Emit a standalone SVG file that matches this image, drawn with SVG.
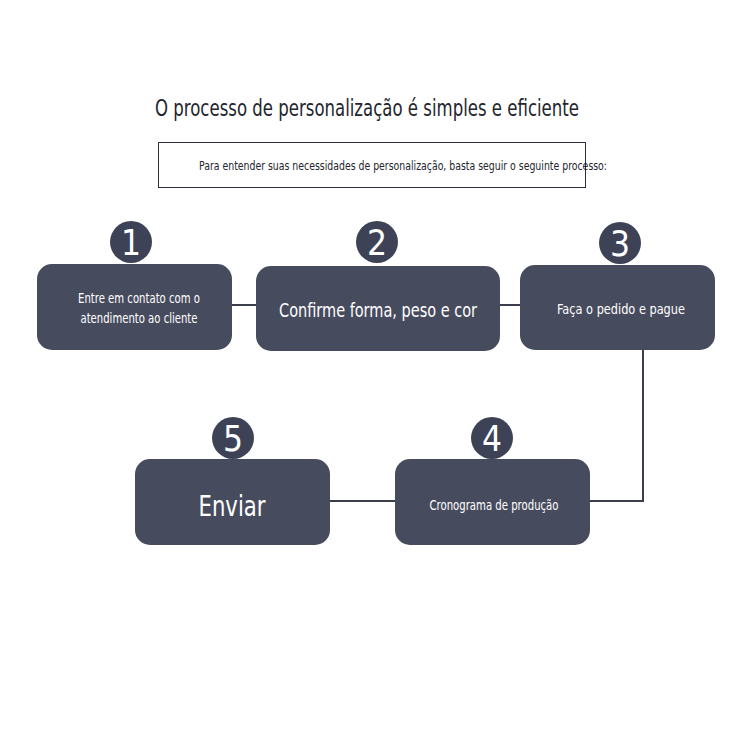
<svg xmlns="http://www.w3.org/2000/svg" width="750" height="750" viewBox="0 0 750 750">
<style>
.node{fill:#474b5e}
.badge{fill:#3e4256}
.num{fill:#ffffff;font-family:"DejaVu Sans",sans-serif;font-stretch:condensed;font-size:35px;text-anchor:middle}
.lbl{fill:#ffffff;font-family:"DejaVu Sans",sans-serif;font-stretch:condensed;text-anchor:middle}
.dark{fill:#23252e;font-family:"DejaVu Sans",sans-serif;font-stretch:condensed}
.conn{stroke:#3a3d4a;stroke-width:2;fill:none}
</style>
<rect width="750" height="750" fill="#ffffff"/>
<g id="header">
<text class="dark" x="155" y="116" font-size="23" textLength="424" lengthAdjust="spacingAndGlyphs">O processo de personalização é simples e eficiente</text>
<rect x="158.5" y="142.5" width="427" height="45" fill="none" stroke="#2b2d38" stroke-width="1"/>
<text class="dark" x="199" y="170" font-size="12.5" textLength="408" lengthAdjust="spacingAndGlyphs">Para entender suas necessidades de personalização, basta seguir o seguinte processo:</text>
</g>
<g id="connectors">
<line class="conn" x1="232" y1="305" x2="257" y2="305"/>
<line class="conn" x1="500" y1="305" x2="521" y2="305"/>
<polyline class="conn" points="643,350 643,501 590,501"/>
<line class="conn" x1="330" y1="501" x2="395" y2="501"/>
</g>
<g id="node1">
<rect class="node" x="37" y="264" width="195" height="86" rx="15"/>
<circle class="badge" cx="131" cy="242" r="21"/>
<text class="num" x="131" y="255">1</text>
<text class="lbl" x="139" y="303" font-size="13.5" textLength="122" lengthAdjust="spacingAndGlyphs">Entre em contato com o</text>
<text class="lbl" x="139" y="323" font-size="13.5" textLength="117" lengthAdjust="spacingAndGlyphs">atendimento ao cliente</text>
</g>
<g id="node2">
<rect class="node" x="256" y="266" width="244" height="85" rx="15"/>
<circle class="badge" cx="377" cy="242" r="21"/>
<text class="num" x="377" y="255">2</text>
<text class="lbl" x="378" y="317" font-size="20" textLength="198" lengthAdjust="spacingAndGlyphs">Confirme forma, peso e cor</text>
</g>
<g id="node3">
<rect class="node" x="520" y="265" width="195" height="85" rx="15"/>
<circle class="badge" cx="620" cy="243" r="21"/>
<text class="num" x="620" y="256">3</text>
<text class="lbl" x="621" y="314" font-size="14.5" textLength="128" lengthAdjust="spacingAndGlyphs">Faça o pedido e pague</text>
</g>
<g id="node4">
<rect class="node" x="395" y="459" width="195" height="86" rx="15"/>
<circle class="badge" cx="492" cy="438" r="21"/>
<text class="num" x="492" y="451">4</text>
<text class="lbl" x="494" y="510" font-size="13.5" textLength="129" lengthAdjust="spacingAndGlyphs">Cronograma de produção</text>
</g>
<g id="node5">
<rect class="node" x="135" y="459" width="195" height="86" rx="15"/>
<circle class="badge" cx="233" cy="438" r="21"/>
<text class="num" x="233" y="451">5</text>
<text class="lbl" x="232" y="516" font-size="29" textLength="67" lengthAdjust="spacingAndGlyphs">Enviar</text>
</g>
</svg>
